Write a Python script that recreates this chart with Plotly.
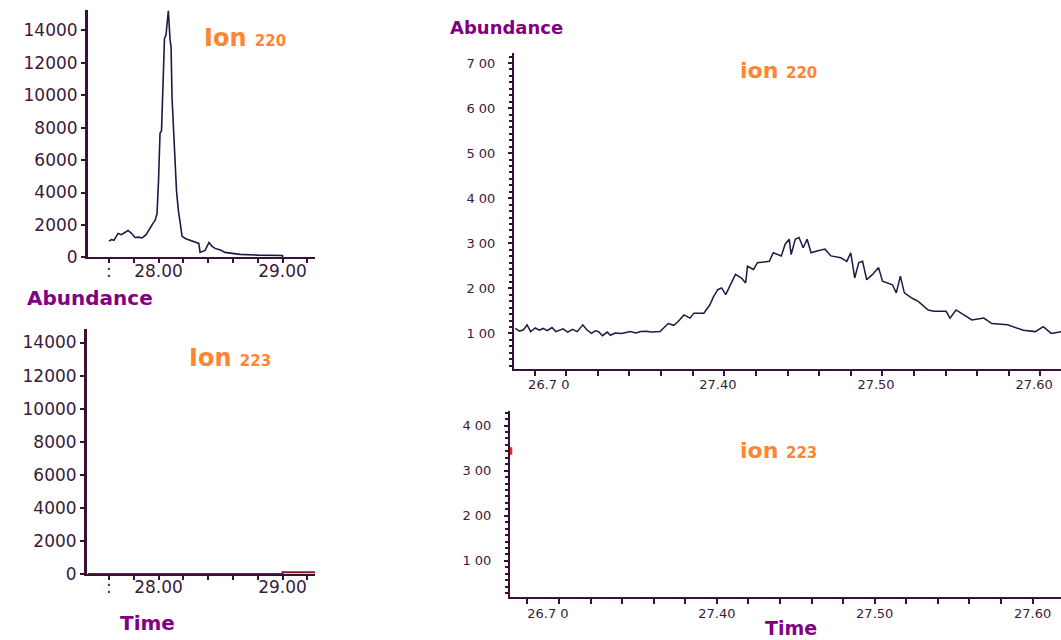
import plotly.graph_objects as go

# Reference pixel frame
W, H = 1061, 640
# The captured picture is squeezed vertically by ~640/651, so the figure is drawn 651 tall
FIG_H = 651

# ---------------- data ----------------
# Top-left: ion 220, full run
ion220_full_t = [27.600, 27.620, 27.640, 27.673, 27.700, 27.727, 27.754, 27.780, 27.810,
                 27.840, 27.867, 27.900, 27.931, 27.955, 27.972, 27.988, 28.000, 28.012,
                 28.024, 28.036, 28.048, 28.060, 28.079, 28.093, 28.101, 28.109, 28.129,
                 28.145, 28.160, 28.173, 28.190, 28.220, 28.254, 28.310, 28.325, 28.335,
                 28.375, 28.407, 28.430, 28.456, 28.500, 28.536, 28.600, 28.657, 28.800,
                 29.000, 29.000]
ion220_full_v = [1000, 1100, 1050, 1480, 1400, 1550, 1660, 1500, 1230,
                 1250, 1200, 1400, 1850, 2100, 2280, 2700, 4750, 7650,
                 7800, 10500, 13500, 13700, 15200, 13400, 13000, 9800, 6800,
                 4100, 2900, 2300, 1300, 1150, 1050, 900, 860, 310,
                 430, 925, 700, 555, 450, 310, 250, 185, 140,
                 120, 0]

# Bottom-left: ion 223, full run
ion223_full_t = [27.431, 29.000, 29.000, 29.262]
ion223_full_v = [0, 0, 100, 100]

# Top-right: ion 220, zoomed window
ion220_zoom_t = [27.2718, 27.2745, 27.2770, 27.2793, 27.2815, 27.2845, 27.2870, 27.2894,
                 27.2920, 27.2950, 27.2975, 27.2994, 27.3020, 27.3050, 27.3080, 27.3110,
                 27.3145, 27.3170, 27.3200, 27.3225, 27.3245, 27.3270, 27.3300, 27.3320,
                 27.3350, 27.3390, 27.3420, 27.3446, 27.3480, 27.3510, 27.3546, 27.3580,
                 27.3634, 27.3685, 27.3720, 27.3747, 27.3785, 27.3823, 27.3848, 27.3911,
                 27.3948, 27.3973, 27.3999, 27.4023, 27.4049, 27.4087, 27.4111, 27.4149,
                 27.4175, 27.4187, 27.4225, 27.4250, 27.4325, 27.4350, 27.4401, 27.4425,
                 27.4451, 27.4463, 27.4489, 27.4513, 27.4539, 27.4564, 27.4589, 27.4627,
                 27.4677, 27.4715, 27.4777, 27.4815, 27.4840, 27.4865, 27.4891, 27.4915,
                 27.4941, 27.4978, 27.5016, 27.5041, 27.5104, 27.5128, 27.5154, 27.5179,
                 27.5229, 27.5267, 27.5330, 27.5367, 27.5443, 27.5468, 27.5506, 27.5556,
                 27.5606, 27.5682, 27.5732, 27.5832, 27.5932, 27.6008, 27.6058, 27.6108,
                 27.6171]
ion220_zoom_v = [111, 105, 108, 119, 104, 112, 107, 111,
                 106, 113, 104, 107, 110, 103, 109, 104,
                 119, 108, 100, 106, 104, 95, 103, 96,
                 101, 100, 103, 104, 101, 104, 105, 103,
                 104, 122, 118, 126, 141, 134, 145, 145,
                 163, 182, 197, 201, 186, 212, 231, 223,
                 212, 249, 242, 257, 260, 279, 272, 298,
                 309, 275, 309, 313, 290, 309, 279, 283,
                 287, 272, 268, 260, 279, 223, 257, 260,
                 219, 231, 246, 216, 208, 190, 227, 190,
                 178, 171, 152, 149, 149, 134, 152, 141,
                 130, 134, 122, 119, 107, 104, 115, 100,
                 104]

# Bottom-right: ion 223, zoomed window (only a tiny off-scale mark at the axis)
ion223_zoom_t = [27.2695, 27.2695]
ion223_zoom_v = [335, 352]

# tick labels
left_y_vals = [0, 2000, 4000, 6000, 8000, 10000, 12000, 14000]
left_y_text = ["0", "2000", "4000", "6000", "8000", "10000", "12000", "14000"]
left_x_vals = [27.6, 27.8, 28.0, 28.2, 28.4, 28.6, 28.8, 29.0, 29.2]
left_x_text = [":", "", "28.00", "", "", "", "", "29.00", ""]
right_top_y_vals = [100, 200, 300, 400, 500, 600, 700]
right_top_y_text = ["1 00", "2 00", "3 00", "4 00", "5 00", "6 00", "7 00"]
right_bot_y_vals = [100, 200, 300, 400]
right_bot_y_text = ["1 00", "2 00", "3 00", "4 00"]
right_x_vals = [27.293, 27.40, 27.50, 27.60]
right_x_text = ["26.7 0", "27.40", "27.50", "27.60"]

# ---------------- styling ----------------
AX = "#3a1038"
TICKFONT = dict(family="DejaVu Sans", size=17, color="#3a1a3a")
RTICKFONT = dict(family="DejaVu Sans", size=13, color="#3a1a3a")
LINE = "#1a1a44"
ORANGE = "#ff8533"
PURPLE = "#820082"


def px(x):
    return x / W


def py(y):
    return 1 - y / H


fig = go.Figure()
fig.add_trace(go.Scatter(x=ion220_full_t, y=ion220_full_v, mode="lines",
                         line=dict(color=LINE, width=1.6), xaxis="x", yaxis="y"))
fig.add_trace(go.Scatter(x=ion223_full_t, y=ion223_full_v, mode="lines",
                         line=dict(color="#8b1a1a", width=2), xaxis="x2", yaxis="y2"))
fig.add_trace(go.Scatter(x=ion220_zoom_t, y=ion220_zoom_v, mode="lines",
                         line=dict(color=LINE, width=1.5), xaxis="x3", yaxis="y3"))
fig.add_trace(go.Scatter(x=ion223_zoom_t, y=ion223_zoom_v, mode="lines",
                         line=dict(color="#e03020", width=3), xaxis="x4", yaxis="y4"))

common = dict(showgrid=False, zeroline=False, showline=True, linecolor=AX,
              ticks="outside", tickcolor=AX)

left_x = dict(common, range=[27.431, 29.262], tickmode="array", tickvals=left_x_vals,
              ticktext=left_x_text, ticklen=4, tickwidth=2, linewidth=2,
              tickfont=TICKFONT, ticklabelstandoff=-7)
left_y = dict(common, tickmode="array", tickvals=left_y_vals, ticktext=left_y_text,
              ticklen=4, tickwidth=2, linewidth=3, tickfont=TICKFONT, ticklabelstandoff=0)

right_x_minor = dict(ticks="outside", ticklen=5, tickcolor=AX, tickwidth=1.5, dtick=0.02)
right_y_minor = dict(ticks="outside", ticklen=3, tickcolor=AX, tickwidth=1.5, dtick=100 / 7, tick0=0)

fig.update_layout(
    width=W, height=FIG_H,
    margin=dict(l=0, r=0, t=0, b=0),
    paper_bgcolor="white", plot_bgcolor="rgba(0,0,0,0)",
    showlegend=False,
    xaxis=dict(left_x, domain=[px(88), px(315)], anchor="y"),
    yaxis=dict(left_y, domain=[py(257), py(10)], range=[0, 15250], anchor="x"),
    xaxis2=dict(left_x, domain=[px(87), px(315)], anchor="y2", range=[27.423, 29.262]),
    yaxis2=dict(left_y, domain=[py(573), py(328)], range=[0, 14848], anchor="x2"),
    xaxis3=dict(common, domain=[px(514), 1.0], range=[27.271, 27.617], anchor="y3",
                tickmode="array", tickvals=right_x_vals, ticktext=right_x_text,
                ticklen=0, linewidth=2, tickfont=RTICKFONT, ticklabelstandoff=3,
                minor=dict(right_x_minor, tick0=27.284)),
    yaxis3=dict(common, domain=[py(368), py(53)], range=[22, 722], anchor="x3",
                tickmode="array", tickvals=right_top_y_vals, ticktext=right_top_y_text,
                ticklen=4, tickwidth=1.5, linewidth=2, tickfont=RTICKFONT,
                ticklabelstandoff=10, minor=right_y_minor),
    xaxis4=dict(common, domain=[px(510), 1.0], range=[27.269, 27.618], anchor="y4",
                tickmode="array", tickvals=right_x_vals, ticktext=right_x_text,
                ticklen=0, linewidth=2, tickfont=RTICKFONT, ticklabelstandoff=3,
                minor=dict(right_x_minor, tick0=27.280)),
    yaxis4=dict(common, domain=[py(596), py(410)], range=[20, 433], anchor="x4",
                tickmode="array", tickvals=right_bot_y_vals, ticktext=right_bot_y_text,
                ticklen=4, tickwidth=1.5, linewidth=2, tickfont=RTICKFONT,
                ticklabelstandoff=10, minor=right_y_minor),
)


def label(text, x, y, size, color):
    fig.add_annotation(text=text, x=px(x), y=py(y), xref="paper", yref="paper",
                       xanchor="left", yanchor="middle", showarrow=False,
                       font=dict(family="DejaVu Sans", size=size, color=color))


label("<b>Ion <span style='font-size:15px'>220</span></b>", 202, 38, 24, ORANGE)
label("<b>Ion <span style='font-size:15px'>223</span></b>", 187, 357, 24, ORANGE)
label("<b>ion <span style='font-size:15px'>220</span></b>", 738, 70, 22, ORANGE)
label("<b>ion <span style='font-size:15px'>223</span></b>", 738, 450, 22, ORANGE)
label("<b>Abundance</b>", 25, 298, 20, PURPLE)
label("<b>Abundance</b>", 448, 27, 18, PURPLE)
label("<b>Time</b>", 118, 622, 20, PURPLE)
label("<b>Time</b>", 763, 627, 19, PURPLE)

# remove the page's default body margin so the figure starts at the window corner
fig.write_html("out.html",
               config={"displayModeBar": False},
               post_script="document.body.style.margin='0';document.body.style.overflow='hidden';")
